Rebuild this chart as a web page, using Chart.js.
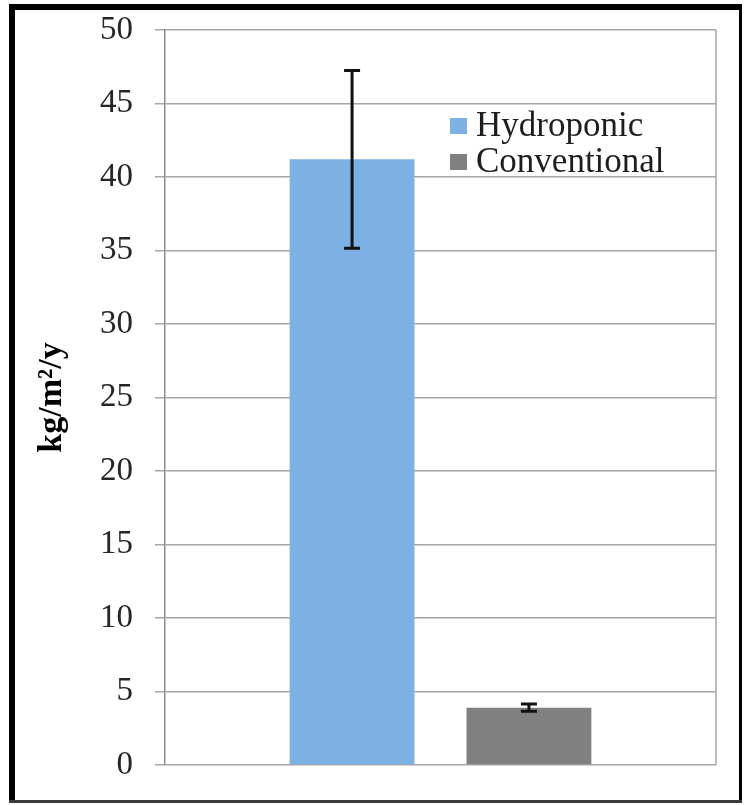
<!DOCTYPE html>
<html>
<head>
<meta charset="utf-8">
<script src="https://cdn.jsdelivr.net/npm/chart.js@4"></script>
<style>
html,body{margin:0;padding:0;background:#fff;}
#wrap{position:relative;width:744px;height:805px;}
</style>
</head>
<body>
<div id="wrap"><canvas id="c"></canvas></div>
<script>
const categories = [''];
const seriesNames = ['Hydroponic', 'Conventional'];
const hydroponic = [41.2];
const conventional = [3.9];
const hydroponicErr = [6.05];
const conventionalErr = [0.25];
const yTicks = [0, 5, 10, 15, 20, 25, 30, 35, 40, 45, 50];
const yTitle = 'kg/m²/y';
const seriesColors = ['#7db1e3', '#808080'];
const errors = [hydroponicErr, conventionalErr];

const SERIF = '"Liberation Serif", "Times New Roman", serif';

const frame = {
  id: 'frame',
  beforeDraw(chart) {
    const ctx = chart.ctx;
    ctx.save();
    ctx.fillStyle = '#fff';
    ctx.fillRect(0, 0, chart.width, chart.height);
    ctx.restore();
  },
  afterDraw(chart) {
    const ctx = chart.ctx;
    const a = chart.chartArea;
    ctx.save();
    // plot border (right side)
    ctx.strokeStyle = '#a6a6a6';
    ctx.lineWidth = 1.5;
    ctx.beginPath();
    ctx.moveTo(a.right, a.top);
    ctx.lineTo(a.right, a.bottom);
    ctx.stroke();
    // outer frame
    ctx.fillStyle = '#000';
    ctx.fillRect(9, 4, 6, 798);
    ctx.fillRect(9, 4, 733, 6);
    ctx.fillRect(739, 4, 3, 798);
    ctx.fillStyle = '#3a3a3a';
    ctx.fillRect(9, 800, 733, 3);
    // legend
    ctx.font = '35px ' + SERIF;
    ctx.textBaseline = 'middle';
    ctx.textAlign = 'left';
    const rows = [126, 162];
    chart.data.datasets.forEach((ds, i) => {
      ctx.fillStyle = ds.backgroundColor;
      ctx.fillRect(450, rows[i] - 8, 17, 16);
      ctx.fillStyle = '#1e1e1e';
      ctx.fillText(ds.label, 476, rows[i] + 1);
    });
    ctx.restore();
  },
  afterDatasetsDraw(chart) {
    const ctx = chart.ctx;
    const y = chart.scales.y;
    ctx.save();
    ctx.strokeStyle = '#111';
    ctx.lineWidth = 3;
    chart.data.datasets.forEach((ds, i) => {
      const meta = chart.getDatasetMeta(i);
      meta.data.forEach((bar, j) => {
        const v = ds.data[j];
        const e = errors[i][j];
        const yHi = y.getPixelForValue(v + e);
        const yLo = y.getPixelForValue(v - e);
        const x = bar.x;
        const cw = 8;
        ctx.beginPath();
        ctx.moveTo(x, yHi); ctx.lineTo(x, yLo);
        ctx.moveTo(x - cw, yHi); ctx.lineTo(x + cw, yHi);
        ctx.moveTo(x - cw, yLo); ctx.lineTo(x + cw, yLo);
        ctx.stroke();
      });
    });
    ctx.restore();
  }
};

new Chart(document.getElementById('c'), {
  type: 'bar',
  data: {
    labels: categories,
    datasets: [
      { label: seriesNames[0], data: hydroponic, backgroundColor: seriesColors[0], borderWidth: 0,
        categoryPercentage: 0.642, barPercentage: 0.706 },
      { label: seriesNames[1], data: conventional, backgroundColor: seriesColors[1], borderWidth: 0,
        categoryPercentage: 0.642, barPercentage: 0.706 }
    ]
  },
  options: {
    responsive: true,
    maintainAspectRatio: false,
    animation: false,
    layout: { padding: { left: 0, top: 30, right: 28, bottom: 40 } },
    plugins: { legend: { display: false }, tooltip: { enabled: false } },
    scales: {
      x: { display: false },
      y: {
        min: 0, max: 50,
        afterBuildTicks(scale) { scale.ticks = yTicks.map(v => ({ value: v })); },
        afterFit(scale) { scale.width = 165; scale.paddingTop = 0; scale.paddingBottom = 0; },
        ticks: {
          stepSize: 5,
          padding: 22,
          color: '#262626',
          font: { family: SERIF, size: 33 }
        },
        grid: { color: '#a6a6a6', lineWidth: 1.5, tickLength: 10, drawTicks: true },
        border: { color: '#8c8c8c', width: 1.5 },
        title: {
          display: true,
          text: yTitle,
          color: '#000',
          font: { family: SERIF, size: 34, weight: 'bold' },
          padding: { top: 32, bottom: 0 }
        }
      }
    }
  },
  plugins: [frame]
});
</script>
</body>
</html>
